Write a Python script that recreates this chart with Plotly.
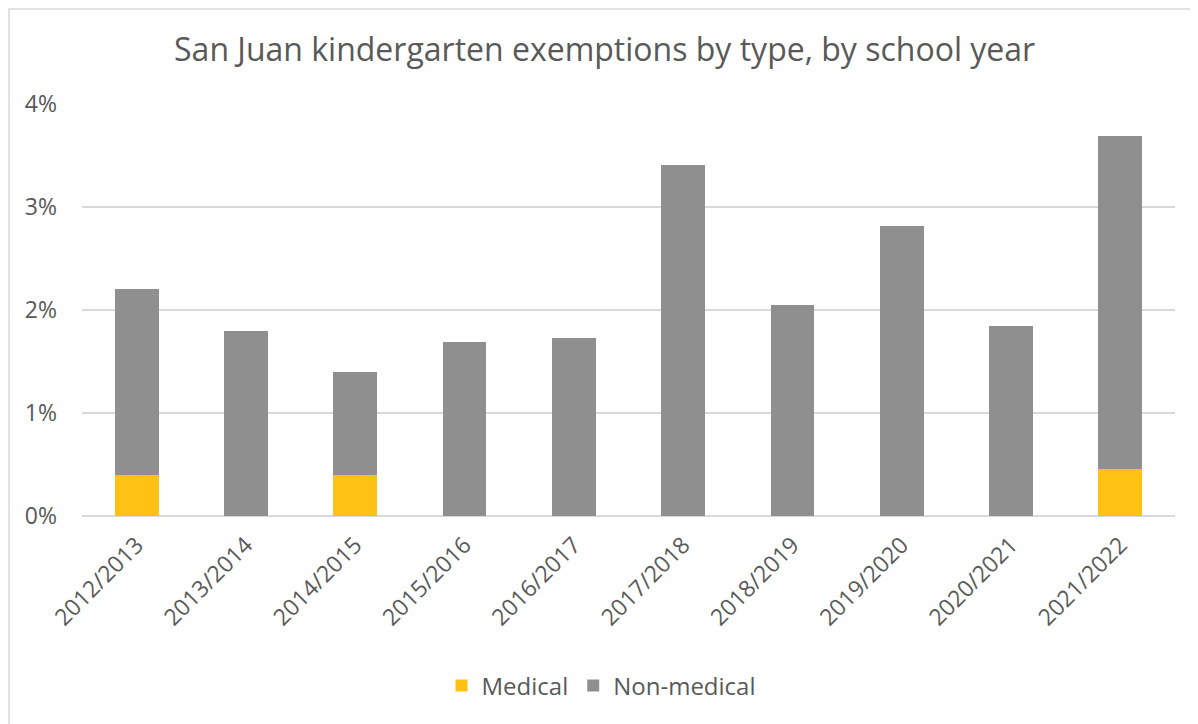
import plotly.graph_objects as go

years = ["2012/2013", "2013/2014", "2014/2015", "2015/2016", "2016/2017",
         "2017/2018", "2018/2019", "2019/2020", "2020/2021", "2021/2022"]
medical = [0.40, 0.0, 0.40, 0.0, 0.0, 0.0, 0.0, 0.0, 0.0, 0.46]
total = [2.20, 1.80, 1.40, 1.69, 1.73, 3.41, 2.05, 2.82, 1.84, 3.69]
non_medical = [round(t - m, 2) for t, m in zip(total, medical)]

W, H = 1198, 724
ml, mr, mt, mb = 74, 31, 96, 216
pw, ph = W - ml - mr, H - mt - mb

fig = go.Figure()
fig.add_trace(go.Bar(x=years, y=[m / 100 for m in medical], name="Medical",
                     marker=dict(color="#FFC214", line=dict(width=0))))
fig.add_trace(go.Bar(x=years, y=[n / 100 for n in non_medical], name="Non-medical",
                     marker=dict(color="#8F8F8F", line=dict(width=0))))

font_color = "#595959"
fig.update_layout(
    width=W, height=H,
    barmode="stack", bargap=0.6,
    margin=dict(l=ml, r=mr, t=mt, b=mb),
    paper_bgcolor="white", plot_bgcolor="white",
    font=dict(family="Open Sans", color=font_color, size=23),
    title=dict(text="San Juan kindergarten exemptions by type, by school year",
               x=0.498, xanchor="center", y=1 - 42 / H, yanchor="middle",
               font=dict(size=32, color=font_color)),
    legend=dict(orientation="h", x=0.495, xref="container", xanchor="center",
                y=1 - 678 / H, yref="container", yanchor="middle",
                font=dict(size=24, color=font_color), traceorder="normal"),
    xaxis=dict(tickangle=-45, showgrid=False, showline=False, ticks="",
               ticklabelstandoff=10,
               tickfont=dict(size=23, color=font_color)),
    yaxis=dict(range=[0, 0.04], dtick=0.01, tickformat=".0%",
               gridcolor="#D9D9D9", gridwidth=1.6, zeroline=True,
               zerolinecolor="#D9D9D9", zerolinewidth=1.6,
               ticks="", ticklabelstandoff=24,
               tickfont=dict(size=23, color=font_color)),
)
# outer chart border
fig.add_shape(type="rect", xref="paper", yref="paper",
              x0=(1 - ml) / pw, x1=(W + 20 - ml) / pw,
              y0=-(H + 20 - mt - ph) / ph, y1=1 + (mt - 1) / ph,
              line=dict(color="#D9D9D9", width=1.5), fillcolor="rgba(0,0,0,0)",
              layer="below")

fig.write_html("out.html")
